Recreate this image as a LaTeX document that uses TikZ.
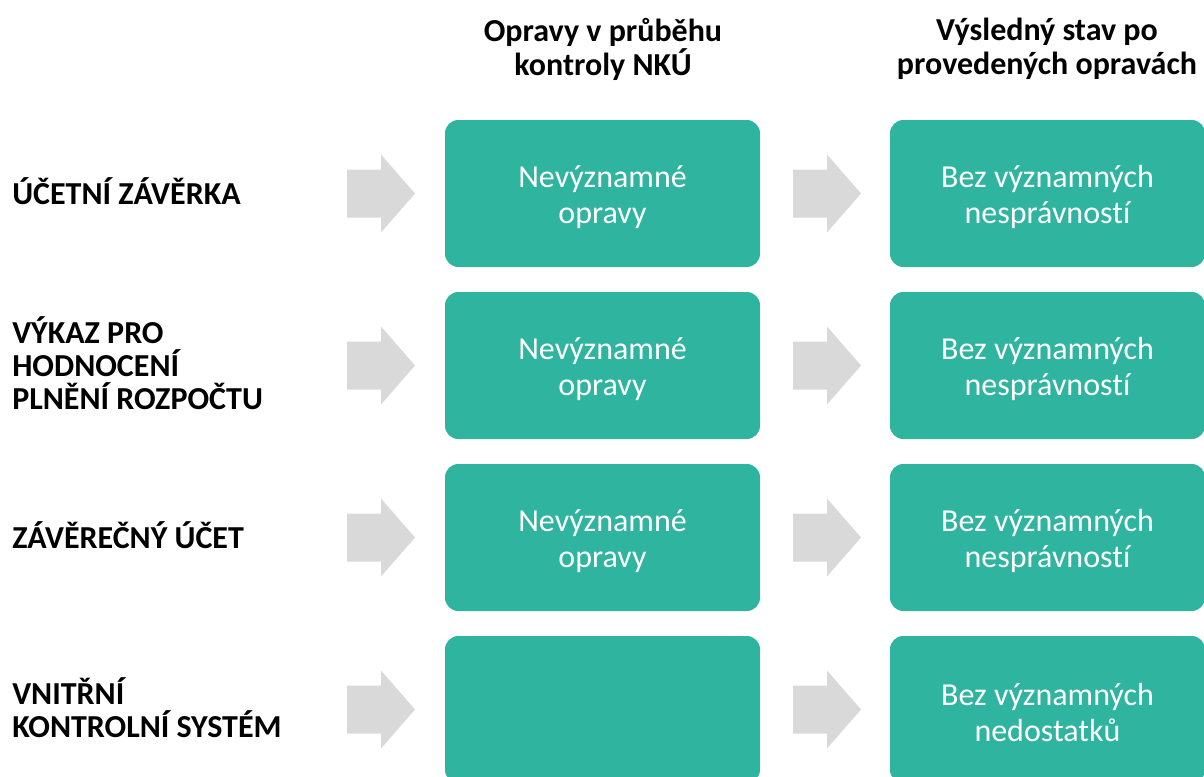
\documentclass[tikz,border=0pt]{standalone}
\usepackage{fontspec}
\setmainfont{Carlito}[Ligatures={NoCommon}]
\definecolor{tealbox}{HTML}{2FB4A0}
\definecolor{arrowgray}{HTML}{D9D9D9}
\tikzset{
  box/.style={fill=tealbox, rounded corners=10pt, minimum width=236.25pt, minimum height=110.25pt,
    inner sep=0pt},
  boxtext/.style={inner sep=0pt, text=white, font=\fontsize{24}{27}\selectfont, align=center},
  rowlabel/.style={anchor=west, font=\bfseries\fontsize{24}{24.75}\selectfont, align=left, inner sep=0pt},
  header/.style={font=\bfseries\fontsize{24}{25.5}\selectfont, align=center, inner sep=0pt},
  pics/grayarrow/.style={code={\fill[arrowgray] (0,-24) -- (34,-24) -- (34,-39) -- (68,0) -- (34,39) -- (34,24) -- (0,24) -- cycle;}}
}
\begin{document}
\begin{tikzpicture}[x=0.75pt,y=-0.75pt]
\useasboundingbox (0,0) rectangle (1204,776);
\clip (0,0) rectangle (1204,776);
% headers
\node[header] (h1) at (603,49) {Opravy v průběhu\\kontroly NKÚ};
\node[header] (h2) at (1047,49) {Výsledný stav po\\provedených opravách};
% row labels
\node[rowlabel] (l1) at (12,191) {ÚČETNÍ ZÁVĚRKA};
\node[rowlabel] (l2) at (12,363.5) {VÝKAZ PRO\\HODNOCENÍ\\PLNĚNÍ ROZPOČTU};
\node[rowlabel] (l3) at (12,535) {ZÁVĚREČNÝ ÚČET};
\node[rowlabel] (l4) at (12,708) {VNITŘNÍ\\KONTROLNÍ SYSTÉM};
% arrows
\foreach \yy in {193.5,365.5,537.5,709.5}{
  \pic at (347,\yy) {grayarrow};
  \pic at (793,\yy) {grayarrow};
}
% boxes
\node[box] (b11) at (602.5,193.5) {};
\node[box] (b12) at (1047.5,193.5) {};
\node[box] (b21) at (602.5,365.5) {};
\node[box] (b22) at (1047.5,365.5) {};
\node[box] (b31) at (602.5,537.5) {};
\node[box] (b32) at (1047.5,537.5) {};
\node[box] (b41) at (602.5,709.5) {};
\node[box] (b42) at (1047.5,709.5) {};
% box texts
\node[boxtext] (t11) at ([yshift=-2.5pt]b11.center) {Nevýznamné\\opravy};
\node[boxtext] (t12) at ([yshift=-2.5pt]b12.center) {Bez významných\\nesprávností};
\node[boxtext] (t21) at ([yshift=-2.5pt]b21.center) {Nevýznamné\\opravy};
\node[boxtext] (t22) at ([yshift=-2.5pt]b22.center) {Bez významných\\nesprávností};
\node[boxtext] (t31) at ([yshift=-2.5pt]b31.center) {Nevýznamné\\opravy};
\node[boxtext] (t32) at ([yshift=-2.5pt]b32.center) {Bez významných\\nesprávností};
\node[boxtext] (t42) at ([yshift=-2.5pt]b42.center) {Bez významných\\nedostatků};
\end{tikzpicture}
\end{document}
